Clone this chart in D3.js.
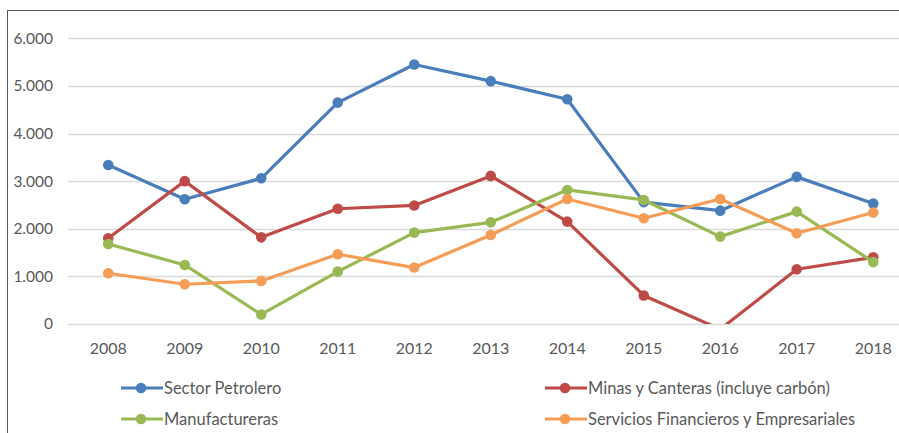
<!DOCTYPE html>
<html>
<head>
<meta charset="utf-8">
<script src="https://cdn.jsdelivr.net/npm/d3@7"></script>
<style>
  body { margin: 0; background: #ffffff; }
  text { font-family: Lato, "Open Sans", sans-serif; fill: #595959; }
</style>
</head>
<body>
<div id="wrapper"></div>
<script>
const years = ["2008", "2009", "2010", "2011", "2012", "2013", "2014", "2015", "2016", "2017", "2018"];
const seriesNames = ["Sector Petrolero", "Minas y Canteras (incluye carbón)", "Manufactureras", "Servicios Financieros y Empresariales"];
const petrolero = [3340, 2620, 3060, 4650, 5450, 5100, 4720, 2560, 2380, 3090, 2530];
const minas = [1800, 3000, 1820, 2420, 2490, 3110, 2150, 600, -110, 1150, 1400];
const manufactureras = [1680, 1240, 200, 1100, 1920, 2135, 2815, 2605, 1835, 2360, 1300];
const servicios = [1065, 835, 905, 1465, 1185, 1870, 2625, 2220, 2625, 1905, 2340];
const yTicks = [0, 1000, 2000, 3000, 4000, 5000, 6000];
const colors = ["#4A7EBB", "#BE4B48", "#98B954", "#F59D56"];

const allSeries = [petrolero, minas, manufactureras, servicios];

const dimensions = {
    width: 899,
    height: 433,
    margin: { top: 38, left: 70, bottom: 109 }
};

const svg = d3.select("#wrapper")
    .append("svg")
    .attr("width", dimensions.width)
    .attr("height", dimensions.height);

// frame (only left and top edges are visible in the crop)
svg.append("rect")
    .attr("x", 7.5)
    .attr("y", 10.5)
    .attr("width", 1000)
    .attr("height", 600)
    .attr("fill", "none")
    .attr("stroke", "#595959")
    .attr("stroke-width", 1);

const xScale = d3.scaleBand()
    .domain(years)
    .range([dimensions.margin.left, dimensions.margin.left + 11 * 76.5]);

const yScale = d3.scaleLinear()
    .domain([0, 6000])
    .range([324, 38.3]);

// gridlines
svg.append("g")
    .selectAll("line")
    .data(yTicks)
    .join("line")
    .attr("x1", 68)
    .attr("x2", dimensions.width)
    .attr("y1", d => Math.round(yScale(d)) + 0.5)
    .attr("y2", d => Math.round(yScale(d)) + 0.5)
    .attr("stroke", "#d9d9d9")
    .attr("stroke-width", 1.5);

// y labels
svg.append("g")
    .selectAll("text")
    .data(yTicks)
    .join("text")
    .attr("x", 53)
    .attr("y", d => yScale(d))
    .attr("dy", "0.35em")
    .attr("text-anchor", "end")
    .style("font-size", "15.5px")
    .text(d => d3.format(",")(d).replace(/,/g, "."));

// x labels
svg.append("g")
    .selectAll("text")
    .data(years)
    .join("text")
    .attr("x", d => xScale(d) + xScale.bandwidth() / 2)
    .attr("y", 348)
    .attr("dy", "0.35em")
    .attr("text-anchor", "middle")
    .style("font-size", "16px")
    .text(d => d);

svg.append("clipPath")
    .attr("id", "plot-clip")
    .append("rect")
    .attr("x", 60)
    .attr("y", 20)
    .attr("width", 850)
    .attr("height", 304);

const line = d3.line()
    .x((d, i) => xScale(years[i]) + xScale.bandwidth() / 2)
    .y(d => yScale(d));

const plot = svg.append("g").attr("clip-path", "url(#plot-clip)");

allSeries.forEach((values, s) => {
    const g = plot.append("g");
    g.append("path")
        .datum(values)
        .attr("d", line)
        .attr("fill", "none")
        .attr("stroke", colors[s])
        .attr("stroke-width", 3.2)
        .attr("stroke-linejoin", "round");
    g.selectAll("circle")
        .data(values)
        .join("circle")
        .attr("cx", (d, i) => xScale(years[i]) + xScale.bandwidth() / 2)
        .attr("cy", d => yScale(d))
        .attr("r", 5.3)
        .attr("fill", colors[s]);
});

// legend
const legendPos = [
    { x: 121, y: 388 },
    { x: 545, y: 388 },
    { x: 121, y: 419 },
    { x: 545, y: 419 }
];

const legend = svg.append("g")
    .selectAll("g")
    .data(seriesNames)
    .join("g")
    .attr("transform", (d, i) => `translate(${legendPos[i].x},${legendPos[i].y})`);

legend.append("line")
    .attr("x1", 0)
    .attr("x2", 42)
    .attr("stroke", (d, i) => colors[i])
    .attr("stroke-width", 3.2);

legend.append("circle")
    .attr("cx", 20)
    .attr("r", 5.3)
    .attr("fill", (d, i) => colors[i]);

legend.append("text")
    .attr("x", 43)
    .attr("dy", "0.35em")
    .style("font-size", "16.5px")
    .text(d => d);
</script>
</body>
</html>
